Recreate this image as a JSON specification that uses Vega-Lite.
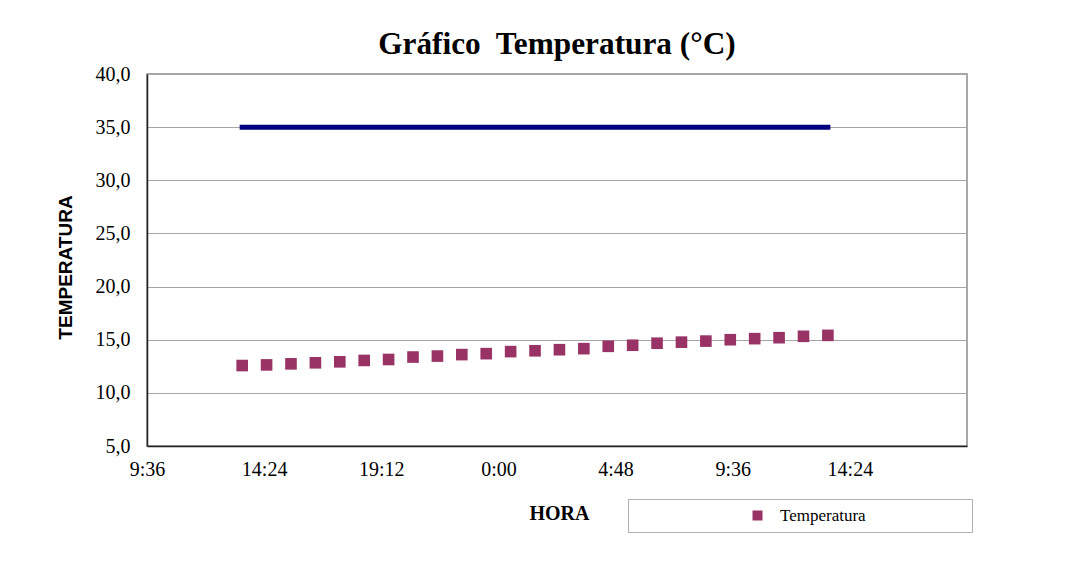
{
  "$schema": "https://vega.github.io/schema/vega-lite/v6.json",
  "autosize": "none",
  "width": 820,
  "height": 372,
  "padding": {"left": 147, "top": 74, "right": 108, "bottom": 131},
  "background": "white",
  "title": {
    "text": "Gráfico\u00a0 Temperatura (°C)",
    "font": "Liberation Serif",
    "fontSize": 31.3,
    "fontWeight": "bold",
    "color": "black",
    "anchor": "middle",
    "frame": "group",
    "offset": 4
  },
  "config": {
    "view": {"stroke": "#8c8c8c", "strokeWidth": 1.5},
    "axis": {
      "labelFont": "Liberation Serif",
      "labelColor": "black",
      "ticks": false,
      "domainColor": "#222222",
      "domainWidth": 1.5,
      "titleColor": "black"
    }
  },
  "data": {
    "values": [
      {"hora": 13.5, "temperatura": 12.57, "limite": 35, "serie": "Temperatura"},
      {"hora": 14.5, "temperatura": 12.63, "limite": 35, "serie": "Temperatura"},
      {"hora": 15.5, "temperatura": 12.73, "limite": 35, "serie": "Temperatura"},
      {"hora": 16.5, "temperatura": 12.83, "limite": 35, "serie": "Temperatura"},
      {"hora": 17.5, "temperatura": 12.92, "limite": 35, "serie": "Temperatura"},
      {"hora": 18.5, "temperatura": 13.05, "limite": 35, "serie": "Temperatura"},
      {"hora": 19.5, "temperatura": 13.14, "limite": 35, "serie": "Temperatura"},
      {"hora": 20.5, "temperatura": 13.37, "limite": 35, "serie": "Temperatura"},
      {"hora": 21.5, "temperatura": 13.46, "limite": 35, "serie": "Temperatura"},
      {"hora": 22.5, "temperatura": 13.6, "limite": 35, "serie": "Temperatura"},
      {"hora": 23.5, "temperatura": 13.69, "limite": 35, "serie": "Temperatura"},
      {"hora": 24.5, "temperatura": 13.88, "limite": 35, "serie": "Temperatura"},
      {"hora": 25.5, "temperatura": 13.96, "limite": 35, "serie": "Temperatura"},
      {"hora": 26.5, "temperatura": 14.06, "limite": 35, "serie": "Temperatura"},
      {"hora": 27.5, "temperatura": 14.16, "limite": 35, "serie": "Temperatura"},
      {"hora": 28.5, "temperatura": 14.38, "limite": 35, "serie": "Temperatura"},
      {"hora": 29.5, "temperatura": 14.48, "limite": 35, "serie": "Temperatura"},
      {"hora": 30.5, "temperatura": 14.67, "limite": 35, "serie": "Temperatura"},
      {"hora": 31.5, "temperatura": 14.77, "limite": 35, "serie": "Temperatura"},
      {"hora": 32.5, "temperatura": 14.87, "limite": 35, "serie": "Temperatura"},
      {"hora": 33.5, "temperatura": 15.0, "limite": 35, "serie": "Temperatura"},
      {"hora": 34.5, "temperatura": 15.1, "limite": 35, "serie": "Temperatura"},
      {"hora": 35.5, "temperatura": 15.19, "limite": 35, "serie": "Temperatura"},
      {"hora": 36.5, "temperatura": 15.32, "limite": 35, "serie": "Temperatura"},
      {"hora": 37.5, "temperatura": 15.41, "limite": 35, "serie": "Temperatura"}
    ]
  },
  "encoding": {
    "x": {
      "field": "hora",
      "type": "quantitative",
      "scale": {"domain": [9.6, 43.2], "nice": false, "zero": false},
      "axis": {
        "title": "HORA",
        "titleFont": "Liberation Serif",
        "titleFontSize": 20,
        "titleFontWeight": "bold",
        "titlePadding": 24,
        "titleX": 412,
        "values": [9.6, 14.4, 19.2, 24, 28.8, 33.6, 38.4],
        "labelFontSize": 20,
        "labelPadding": 13,
        "labelFlush": false,
        "labelOverlap": false,
        "grid": false,
        "labelExpr": "floor(datum.value % 24) + ':' + (round((datum.value % 1) * 60) < 10 ? '0' : '') + round((datum.value % 1) * 60)"
      }
    }
  },
  "layer": [
    {
      "mark": {"type": "line", "color": "#000080", "strokeWidth": 5, "strokeCap": "square"},
      "encoding": {
        "y": {
          "field": "limite",
          "type": "quantitative",
          "scale": {"domain": [5, 40], "nice": false, "zero": false},
          "axis": {
            "title": "TEMPERATURA",
            "titleFont": "Liberation Sans",
            "titleFontSize": 19,
            "titleFontWeight": "bold",
            "titlePadding": 20,
            "titleY": 193,
            "values": [5, 10, 15, 20, 25, 30, 35, 40],
            "labelFontSize": 20,
            "labelPadding": 17,
            "labelFlush": false,
            "grid": true,
            "gridColor": "#a6a6a6",
            "gridWidth": 1,
            "labelExpr": "replace(format(datum.value, '.1f'), '.', ',')"
          }
        }
      }
    },
    {
      "mark": {"type": "point", "shape": "square", "filled": true, "size": 135, "opacity": 1},
      "encoding": {
        "y": {"field": "temperatura", "type": "quantitative"},
        "color": {
          "field": "serie",
          "type": "nominal",
          "scale": {"range": ["#993366"]},
          "legend": {
            "title": ".",
            "titleOrient": "right",
            "titleOpacity": 0,
            "titleFontSize": 12,
            "titlePadding": 94,
            "orient": "none",
            "legendX": 481,
            "legendY": 425,
            "padding": 8,
            "strokeColor": "#b0b0b0",
            "fillColor": "white",
            "symbolType": "square",
            "symbolSize": 100,
            "symbolOffset": 113,
            "labelFont": "Liberation Serif",
            "labelFontSize": 17,
            "labelColor": "black",
            "labelOffset": 14,
            "labelLimit": 400
          }
        }
      }
    }
  ]
}
